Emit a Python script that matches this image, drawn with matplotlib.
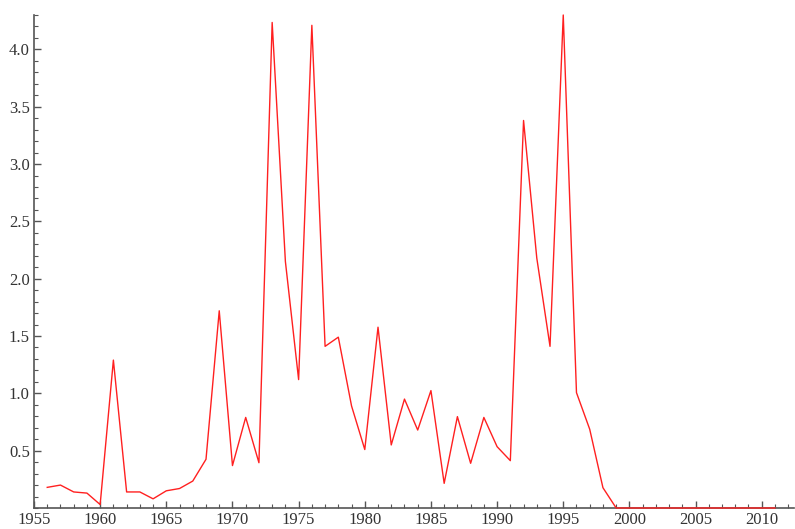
import matplotlib
matplotlib.use("Agg")
import matplotlib.pyplot as plt
from matplotlib.ticker import MultipleLocator

# values
years = list(range(1956, 2012))
values = [0.18, 0.20, 0.14, 0.13, 0.03, 1.29, 0.14, 0.14, 0.08, 0.15,
          0.17, 0.235, 0.425, 1.72, 0.37, 0.79, 0.395, 4.235, 2.15, 1.12,
          4.21, 1.41, 1.49, 0.89, 0.51, 1.577, 0.55, 0.95, 0.68, 1.024,
          0.215, 0.797, 0.39, 0.79, 0.535, 0.413, 3.38, 2.18, 1.41, 4.30,
          1.006, 0.687, 0.177, 0.0, 0.0, 0.0, 0.0, 0.0, 0.0, 0.0,
          0.0, 0.0, 0.0, 0.0, 0.0, 0.0]

x_ticks = list(range(1955, 2011, 5))
y_ticks = [0.5, 1.0, 1.5, 2.0, 2.5, 3.0, 3.5, 4.0]

axis_col = "#555555"

fig = plt.figure(figsize=(7.95, 5.29), dpi=100)
ax = fig.add_axes([34 / 795, 1 - 508 / 529, (794 - 34) / 795, (508 - 15) / 529])

ax.plot(years, values, color="#ff2020", lw=1.0, clip_on=False, zorder=3)

ax.set_xlim(1955, 2012.44)
ax.set_ylim(0, 4.30)

for s in ["top", "right"]:
    ax.spines[s].set_visible(False)
for s in ["left", "bottom"]:
    ax.spines[s].set_color(axis_col)
    ax.spines[s].set_linewidth(1.2)

ax.set_xticks(x_ticks)
ax.set_yticks(y_ticks)
ax.set_yticklabels(["%.1f" % v for v in y_ticks])
ax.xaxis.set_minor_locator(MultipleLocator(1))
ax.yaxis.set_minor_locator(MultipleLocator(0.1))

ax.tick_params(which="major", direction="in", length=5, width=1.0, color=axis_col,
               labelsize=12, labelcolor="#333333", pad=3)
ax.tick_params(which="minor", direction="in", length=3, width=0.8, color=axis_col)
for lab in ax.get_xticklabels() + ax.get_yticklabels():
    lab.set_family("Liberation Serif")

fig.savefig("out.png", dpi=100)
